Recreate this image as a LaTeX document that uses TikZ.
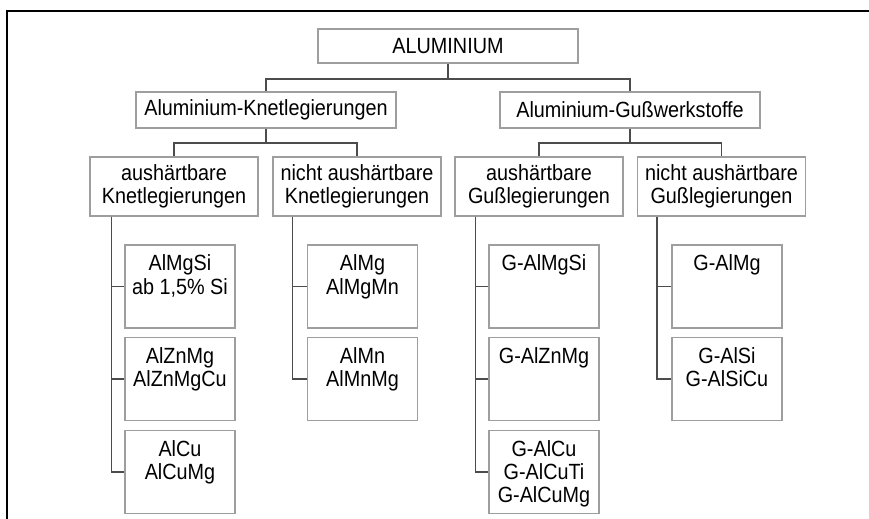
\documentclass[tikz,border=0pt]{standalone}
\usepackage{fontspec}
\setmainfont{Liberation Sans}[FakeStretch=0.9]
\definecolor{boxgray}{gray}{0.62}
\definecolor{linegray}{gray}{0.3}

\begin{document}
\begin{tikzpicture}[x=0.5pt, y=-0.5pt,
    box/.style={draw=boxgray, line width=0.7pt, fill=white, inner sep=0pt, align=center, font=\fontsize{11}{11.7}\selectfont},
    rootbox/.style={box, minimum width=130pt, minimum height=17pt},
    groupbox/.style={box, minimum width=130pt, minimum height=18pt},
    kindbox/.style={box, minimum width=84pt, minimum height=29.5pt},
    leafbox/.style={box, minimum width=55pt, minimum height=41.5pt},
    leaftext/.style={anchor=north, align=center, inner sep=0pt, font=\fontsize{11}{11.7}\selectfont},
    conn/.style={draw=linegray, line width=0.7pt}]
            \useasboundingbox (0,0) rectangle (869,519);
            % Frame
            \draw[line width=1pt] (869,11.5) -- (6.5,11.5) -- (6.5,519);

            % Root and groups
            \node[rootbox] (alu) at (448,46) {ALUMINIUM};
            \node[groupbox] (knet) at (266,110) {Aluminium-Knetlegierungen};
            \node[groupbox] (guss) at (630,110) {Aluminium-Gußwerkstoffe};
            \coordinate (j0) at (448,79);
            \coordinate (j1) at (266,143);
            \coordinate (j2) at (630,143);

            % Kinds
            \node[kindbox] (ka) at (174,186.5) {aushärtbare\\Knetlegierungen};
            \node[kindbox] (kn) at (357,186.5) {nicht aushärtbare\\Knetlegierungen};
            \node[kindbox] (ga) at (539,186.5) {aushärtbare\\Gußlegierungen};
            \node[kindbox] (gn) at (721.5,186.5) {nicht aushärtbare\\Gußlegierungen};

            % Alloys
            \node[leafbox] (ka1) at (180,286.5) {};
            \node[leafbox] (ka2) at (180,379) {};
            \node[leafbox] (ka3) at (180,472) {};
            \node[leafbox] (kn1) at (362.5,286.5) {};
            \node[leafbox] (kn2) at (362.5,379) {};
            \node[leafbox] (ga1) at (544,286.5) {};
            \node[leafbox] (ga2) at (544,379) {};
            \node[leafbox] (ga3) at (544,472) {};
            \node[leafbox] (gn1) at (727,286.5) {};
            \node[leafbox] (gn2) at (727,379) {};

            \node[leaftext] at ([yshift=-5pt]ka1.north) {AlMgSi\\ab 1,5\% Si};
            \node[leaftext] at ([yshift=-5pt]ka2.north) {AlZnMg\\AlZnMgCu};
            \node[leaftext] at ([yshift=-5pt]ka3.north) {AlCu\\AlCuMg};
            \node[leaftext] at ([yshift=-5pt]kn1.north) {AlMg\\AlMgMn};
            \node[leaftext] at ([yshift=-5pt]kn2.north) {AlMn\\AlMnMg};
            \node[leaftext] at ([yshift=-5pt]ga1.north) {G-AlMgSi};
            \node[leaftext] at ([yshift=-5pt]ga2.north) {G-AlZnMg};
            \node[leaftext] at ([yshift=-5pt]ga3.north) {G-AlCu\\G-AlCuTi\\G-AlCuMg};
            \node[leaftext] at ([yshift=-5pt]gn1.north) {G-AlMg};
            \node[leaftext] at ([yshift=-5pt]gn2.north) {G-AlSi\\G-AlSiCu};

            % Tree lines
            \draw[conn] (alu.south) -- (j0);
            \draw[conn] (knet.north) |- (j0) -| (guss.north);
            \draw[conn] (knet.south) -- (j1);
            \draw[conn] (ka.north) |- (j1) -| (kn.north);
            \draw[conn] (guss.south) -- (j2);
            \draw[conn] (ga.north) |- (j2) -| (gn.north);

            \draw[conn] ([xshift=11pt]ka.south west) |- (ka1.west);
            \draw[conn] ([xshift=11pt]ka.south west) |- (ka2.west);
            \draw[conn] ([xshift=11pt]ka.south west) |- (ka3.west);
            \draw[conn] ([xshift=10pt]kn.south west) |- (kn1.west);
            \draw[conn] ([xshift=10pt]kn.south west) |- (kn2.west);
            \draw[conn] ([xshift=10.5pt]ga.south west) |- (ga1.west);
            \draw[conn] ([xshift=10.5pt]ga.south west) |- (ga2.west);
            \draw[conn] ([xshift=10.5pt]ga.south west) |- (ga3.west);
            \draw[conn] ([xshift=10pt]gn.south west) |- (gn1.west);
            \draw[conn] ([xshift=10pt]gn.south west) |- (gn2.west);
\end{tikzpicture}
\end{document}
